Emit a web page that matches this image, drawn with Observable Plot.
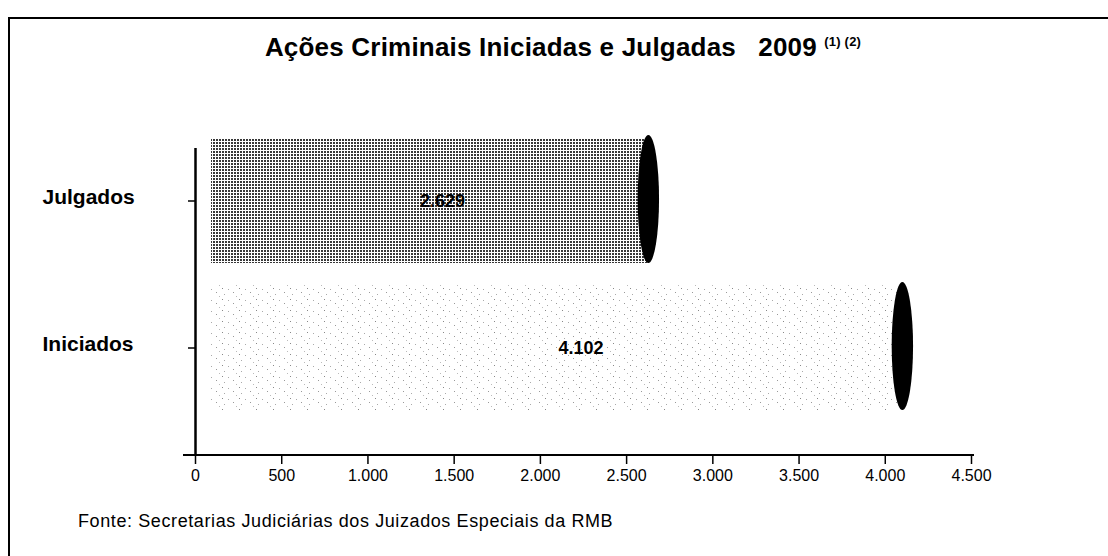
<!DOCTYPE html>
<html>
<head>
<meta charset="utf-8">
<script src="https://cdn.jsdelivr.net/npm/d3@7"></script>
<script src="https://cdn.jsdelivr.net/npm/@observablehq/plot@0.6"></script>
<style>
  html, body { margin: 0; padding: 0; background: #fff; }
  body { width: 1108px; height: 556px; position: relative; overflow: hidden; font-family: "Liberation Sans", Arial, sans-serif; color: #000; }
  #frame { position: absolute; left: 8px; top: 17px; width: 1110px; height: 560px; border-left: 2px solid #000; border-top: 2px solid #000; }
  #title { position: absolute; top: 32px; left: 0; width: 1108px; padding-left: 18px; box-sizing: border-box; text-align: center; font-weight: bold; font-size: 26px; letter-spacing: 0.2px; white-space: pre; }
  #title sup { font-size: 13px; vertical-align: 10px; }
  #chart { position: absolute; top: 100px; left: 0; }
  #footer { position: absolute; top: 511px; left: 78px; font-size: 18px; letter-spacing: 0.6px; }
</style>
</head>
<body>
<svg width="0" height="0" style="position:absolute">
  <defs>
    <pattern id="pDark" width="3" height="3" patternUnits="userSpaceOnUse">
      <rect width="3" height="3" fill="#ffffff"></rect>
      <rect width="2" height="2" fill="#383838"></rect>
    </pattern>
    <pattern id="pLight" width="17" height="11" patternUnits="userSpaceOnUse">
      <rect width="17" height="11" fill="#ffffff"></rect>
      <rect x="1" y="1" width="1" height="1" fill="#888"></rect>
      <rect x="7" y="2" width="1" height="1" fill="#aaa"></rect>
      <rect x="12" y="5" width="1" height="1" fill="#999"></rect>
      <rect x="3" y="7" width="1" height="1" fill="#aaa"></rect>
      <rect x="15" y="9" width="1" height="1" fill="#bbb"></rect>
    </pattern>
  </defs>
</svg>
<div id="frame"></div>
<div id="title">Ações Criminais Iniciadas e Julgadas   2009 <sup>(1) (2)</sup></div>
<div id="chart"></div>
<div id="footer">Fonte: Secretarias Judiciárias dos Juizados Especiais da RMB</div>
<script>
const categories = ["Julgados", "Iniciados"];
const values = [2629, 4102];
const xTicks = [0, 500, 1000, 1500, 2000, 2500, 3000, 3500, 4000, 4500];
const fills = ["url(#pDark)", "url(#pLight)"];

const data = categories.map((c, i) => ({category: c, value: values[i]}));
const br = d3.formatLocale({decimal: ",", thousands: ".", grouping: [3], currency: ["R$", ""]});
const fmt = v => v === 0 ? "0" : br.format(",d")(v);

// x-axis baseline drawn from the plot's own x scale and frame dimensions
function xBaseline(index, scales, values, dimensions) {
  const y = dimensions.height - dimensions.marginBottom;
  const [d0, d1] = scales.x.domain ? scales.x.domain() : [0, 4500];
  const line = d3.create("svg:line")
    .attr("x1", scales.x(d0) - 12)
    .attr("x2", scales.x(d1) + 3)
    .attr("y1", y).attr("y2", y)
    .attr("stroke", "#000").attr("stroke-width", 2.2);
  return line.node();
}

const plot = Plot.plot({
  width: 1108,
  height: 390,
  marginLeft: 195,
  marginRight: 137,
  marginTop: 48,
  marginBottom: 35,
  style: {fontFamily: "Liberation Sans, Arial, sans-serif", fontSize: "16px", color: "#000", background: "transparent"},
  x: {domain: [0, 4500], label: null},
  y: {type: "band", domain: categories, range: [37.5, 309.5], paddingInner: 0.15, paddingOuter: 0, label: null},
  color: {domain: categories, range: fills},
  marks: [
    Plot.barX(data, {x: "value", y: "category", fill: "category", insetLeft: 16}),
    Plot.barX(data, {x1: d => d.value - 62, x2: d => d.value + 62, y: "category", fill: "#000", rx: 11, ry: 64, insetTop: -3}),
    Plot.text(data, {x: d => d.value * 0.545, y: "category", text: d => fmt(d.value), fontWeight: "bold", fontSize: 18, fill: "#000"}),
    Plot.text(categories, {y: d => d, frameAnchor: "left", textAnchor: "start", dx: -153, dy: -4, fontWeight: "bold", fontSize: 21, fill: "#000"}),
    Plot.axisY({tickSize: 7, tickFormat: () => "", strokeWidth: 1.5, label: null}),
    Plot.axisX({ticks: xTicks, tickFormat: fmt, tickSize: 9, tickPadding: 5, strokeWidth: 1.5, fontSize: 16, label: null}),
    Plot.ruleX([0], {strokeWidth: 2.5}),
    xBaseline
  ]
});
document.getElementById("chart").appendChild(plot);
</script>
</body>
</html>
